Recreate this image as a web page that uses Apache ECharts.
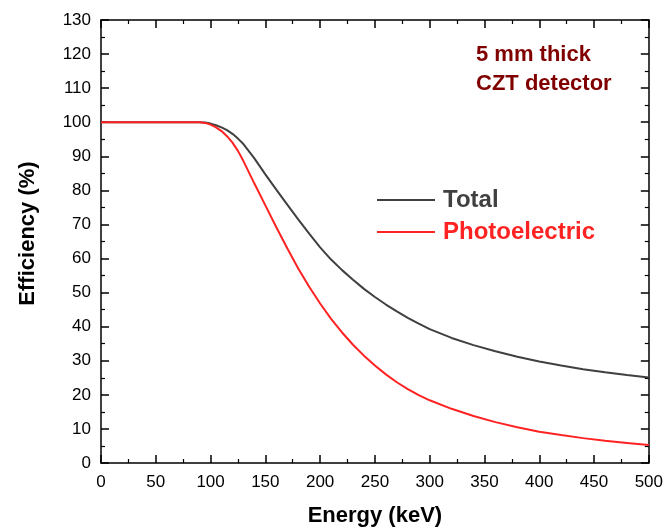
<!DOCTYPE html>
<html>
<head>
<meta charset="utf-8">
<script src="https://cdn.jsdelivr.net/npm/echarts@6/dist/echarts.min.js"></script>
<style>
  html, body { margin: 0; padding: 0; background: #fff; }
  #chart { width: 666px; height: 532px; }
</style>
</head>
<body>
<div id="chart"></div>
<script>
// Detection efficiency of a 5 mm CZT detector versus photon energy
const energy = [0, 50, 80, 90, 95, 100, 105, 110, 115, 120, 125, 130, 140, 150, 160, 170, 180, 190, 200,
  210, 220, 230, 240, 250, 260, 270, 280, 290, 300, 320, 340, 360, 380, 400, 420, 440, 460, 480, 500];
const totalEff = [100, 100, 100, 100, 99.9, 99.6, 99.1, 98.5, 97.7, 96.6, 95.2, 93.6, 89.4, 84.7, 80.2, 75.8, 71.5, 67.3, 63.3,
  59.7, 56.6, 53.8, 51.1, 48.7, 46.5, 44.5, 42.6, 40.9, 39.3, 36.7, 34.6, 32.8, 31.2, 29.8, 28.6, 27.5, 26.6, 25.8, 25.1];
const photoEff = [100, 100, 100, 100, 99.8, 99.3, 98.5, 97.4, 95.9, 94.0, 91.6, 88.6, 82.0, 75.6, 69.2, 63.0, 57.1, 51.7, 46.8,
  42.3, 38.3, 34.7, 31.5, 28.6, 26.0, 23.7, 21.7, 19.9, 18.4, 15.9, 13.8, 12.0, 10.5, 9.2, 8.2, 7.3, 6.5, 5.9, 5.3];

const xTicks = { min: 0, max: 500, interval: 50 };
const yTicks = { min: 0, max: 130, interval: 10 };

const seriesNames = ['Total', 'Photoelectric'];
const seriesColors = ['#404040', '#ff2222'];

const pair = (xs, ys) => xs.map((x, i) => [x, ys[i]]);

const font = 'Arial, "Liberation Sans", sans-serif';
const axisLineStyle = { color: '#000', width: 1.5 };

function frameAxis(extra) {
  return Object.assign({
    type: 'value',
    axisLine: { show: true, onZero: false, lineStyle: axisLineStyle },
    axisTick: { show: true, inside: true, length: 8, lineStyle: { color: '#000', width: 1.5 } },
    minorTick: { show: true, splitNumber: 2, length: 4, lineStyle: { color: '#000', width: 1.2 } },
    splitLine: { show: false },
    minorSplitLine: { show: false }
  }, extra);
}

const chart = echarts.init(document.getElementById('chart'), null, { renderer: 'canvas' });
chart.setOption({
  backgroundColor: '#fff',
  animation: false,
  grid: { left: 101, right: 16, top: 20, bottom: 69, containLabel: false },
  xAxis: [
    frameAxis(Object.assign({
      position: 'bottom',
      name: 'Energy (keV)',
      nameLocation: 'middle',
      nameGap: 42,
      nameTextStyle: { fontFamily: font, fontSize: 22, fontWeight: 'bold', color: '#000' },
      axisLabel: { fontFamily: font, fontSize: 17, color: '#000', margin: 11 }
    }, xTicks)),
    frameAxis(Object.assign({ position: 'top', axisLabel: { show: false } }, xTicks))
  ],
  yAxis: [
    frameAxis(Object.assign({
      position: 'left',
      name: 'Efficiency (%)',
      nameLocation: 'middle',
      nameGap: 62,
      nameTextStyle: { fontFamily: font, fontSize: 22, fontWeight: 'bold', color: '#000', padding: [0, 0, 0, 16] },
      axisLabel: { fontFamily: font, fontSize: 17, color: '#000', margin: 10 }
    }, yTicks)),
    frameAxis(Object.assign({ position: 'right', axisLabel: { show: false } }, yTicks))
  ],
  legend: {
    orient: 'vertical',
    left: 377,
    top: 188,
    padding: 0,
    icon: 'rect',
    itemWidth: 58,
    itemHeight: 2,
    itemGap: 8,
    data: seriesNames.map((n, i) => ({
      name: n,
      textStyle: { color: seriesColors[i], fontFamily: font, fontSize: 24, fontWeight: 'bold', padding: [0, 0, 0, 3] }
    }))
  },
  graphic: [{
    type: 'text',
    left: 476,
    top: 40,
    style: {
      text: '5 mm thick\nCZT detector',
      align: 'center',
      fill: '#800000',
      font: 'bold 22px ' + font,
      lineHeight: 29
    }
  }],
  series: seriesNames.map((n, i) => ({
    name: n,
    type: 'line',
    data: pair(energy, i === 0 ? totalEff : photoEff),
    symbol: 'none',
    smooth: false,
    lineStyle: { color: seriesColors[i], width: 2 },
    itemStyle: { color: seriesColors[i] },
    z: i === 0 ? 2 : 3
  }))
});
</script>
</body>
</html>
